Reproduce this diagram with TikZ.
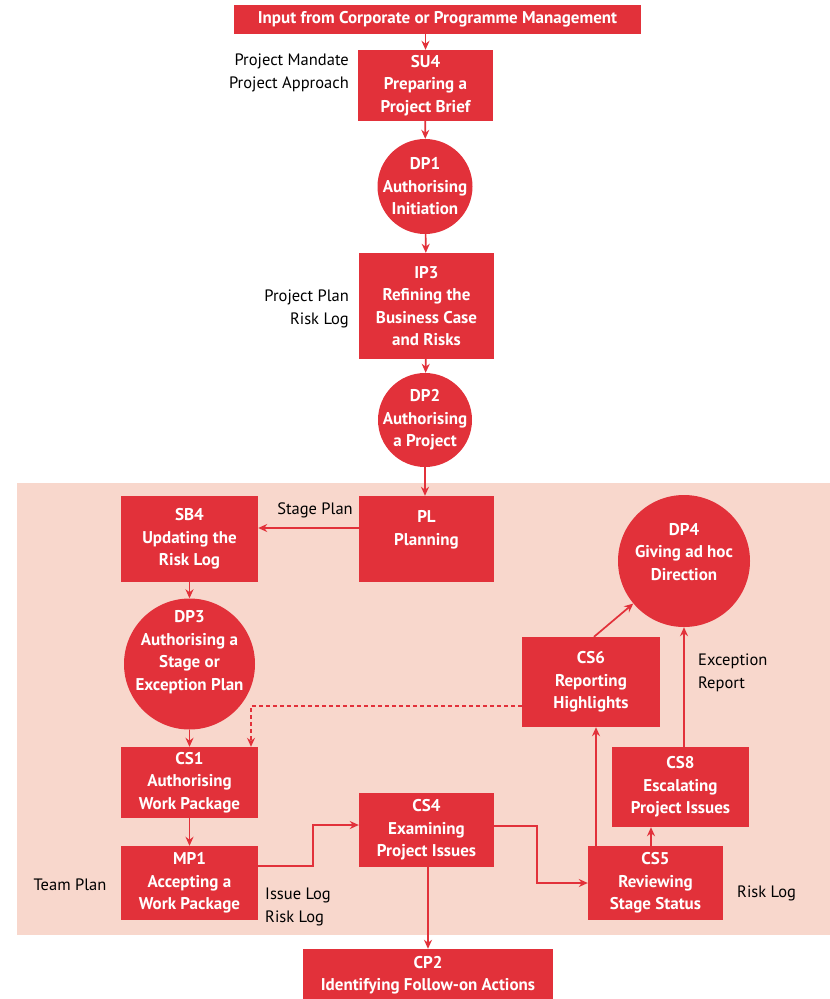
\documentclass[tikz,border=0pt]{standalone}
\usepackage{fontspec}
\setmainfont{PT Sans}
\usetikzlibrary{arrows.meta,calc}
\definecolor{procred}{RGB}{226,49,58}
\definecolor{zonepink}{RGB}{248,215,204}
\tikzset{
  proctext/.style={text=white, align=center, inner sep=0pt,
    font=\bfseries\fontsize{17}{22.5}\selectfont},
  procbox/.style={proctext, draw=none, fill=procred, rectangle},
  proccirc/.style={draw=none, fill=procred, circle, inner sep=0pt},
  flow/.style={draw=procred, line width=1.7pt, -{Stealth[length=9pt,width=8pt]}},
  dashflow/.style={flow, dashed, line width=1.2pt, dash pattern=on 4pt off 3pt},
  note/.style={text=black, inner sep=0pt, font=\fontsize{16.5}{23}\selectfont}
}
\begin{document}
\begin{tikzpicture}[x=1pt,y=-1pt]
\useasboundingbox (0,0) rectangle (830,999);
% stage zone
\fill[zonepink] (17,483) rectangle (830,935);

% process nodes
\node[procbox, minimum width=407pt, minimum height=29pt] (input) at (437.5,19.5)
  {Input from Corporate or Programme Management};
\node[procbox, minimum width=135pt, minimum height=71pt] (su4) at (425.5,85.5)
  {SU4\\Preparing a\\Project Brief};
\node[proccirc, minimum size=95pt,
  label={[proctext]center:{DP1\\Authorising\\Initiation}}] (dp1) at (425,186.5) {};
\node[procbox, minimum width=135pt, minimum height=106pt] (ip3) at (426.5,306)
  {IP3\\Refining the\\Business Case\\and Risks};
\node[proccirc, minimum size=94pt,
  label={[proctext]center:{DP2\\Authorising\\a Project}}] (dp2) at (425,420) {};
\node[procbox, minimum width=135pt, minimum height=86pt] (pl) at (426.5,539)
  {PL\\Planning\\\mbox{}};
\node[procbox, minimum width=137pt, minimum height=86pt] (sb4) at (189.5,539)
  {SB4\\Updating the\\Risk Log};
\node[proccirc, minimum size=131pt,
  label={[proctext, yshift=12pt]center:{DP3\\Authorising a\\Stage or\\Exception Plan}}] (dp3) at (189.5,664) {};
\node[procbox, minimum width=137pt, minimum height=71pt] (cs1) at (189.5,782.5)
  {CS1\\Authorising\\Work Package};
\node[procbox, minimum width=137pt, minimum height=74pt] (mp1) at (189.5,883)
  {MP1\\Accepting a\\Work Package};
\node[procbox, minimum width=135pt, minimum height=74pt] (cs4) at (426.5,830)
  {CS4\\Examining\\Project Issues};
\node[procbox, minimum width=135pt, minimum height=74pt] (cs5) at (655.5,883)
  {CS5\\Reviewing\\Stage Status};
\node[procbox, minimum width=137pt, minimum height=80pt] (cs8) at (680.5,787)
  {CS8\\Escalating\\Project Issues};
\node[procbox, minimum width=138pt, minimum height=90pt] (cs6) at (591,682)
  {CS6\\Reporting\\Highlights};
\node[proccirc, minimum size=132pt,
  label={[proctext, yshift=9pt]center:{DP4\\Giving ad hoc\\Direction}}] (dp4) at (684,561) {};
\node[procbox, minimum width=250pt, minimum height=52pt] (cp2) at (428,975)
  {CP2\\Identifying Follow-on Actions};

% products
\node[note, anchor=east, align=right] (mandate) at (349,72.5) {Project Mandate\\Project Approach};
\node[note, anchor=east, align=right] (plan) at (349,308.5) {Project Plan\\Risk Log};
\node[note] (stageplan) at (315,510) {Stage Plan};
\node[note, anchor=west, align=left] (excrep) at (698,673) {Exception\\Report};
\node[note] (teamplan) at (70,885) {Team Plan};
\node[note, anchor=west, align=left] (issuelog) at (265,907) {Issue Log\\Risk Log};
\node[note, anchor=west] (risklog) at (737,893) {Risk Log};

% main flow
\draw[flow] (input.south -| su4.north) -- (su4.north);
\draw[flow] (su4) -- (dp1);
\draw[flow] (dp1) -- (ip3);
\draw[flow] (ip3) -- (dp2);
\draw[flow] (dp2) -- (dp2 |- pl.north);
\draw[flow] ([yshift=11pt]pl.west) -- ([yshift=11pt]sb4.east);
\draw[flow] (sb4) -- (dp3);
\draw[flow] (dp3) -- (cs1);
\draw[flow] (cs1) -- (mp1);
\coordinate (mp1out) at ([yshift=17pt]mp1.east);
\coordinate (cs4in) at ([yshift=5pt]cs4.west);
\draw[flow] (mp1out) -- (313,0 |- mp1out) -- (313,0 |- cs4in) -- (cs4in);
\coordinate (cs4out) at ([yshift=4pt]cs4.east);
\draw[flow] (cs4out) -- (537,0 |- cs4out) -- (537,0 |- cs5.west) -- (cs5.west);
\draw[flow] (cs4.south -| cp2.north) -- (cp2.north);
\draw[flow] (cs5.north -| 596,0) -- (cs6.south -| 596,0);
\draw[flow] (cs5.north -| 651,0) -- (cs8.south -| 651,0);
\draw[flow] (cs8.north -| dp4.south) -- (dp4.south);
\draw[flow] (cs6.north -| 594,0) -- (dp4.220);
% report-back path
\coordinate (cs6out) at ([yshift=-24pt]cs6.west);
\draw[dashflow] (cs6out) -- (251,0 |- cs6out) -- (251,0 |- cs1.north);
\end{tikzpicture}
\end{document}
